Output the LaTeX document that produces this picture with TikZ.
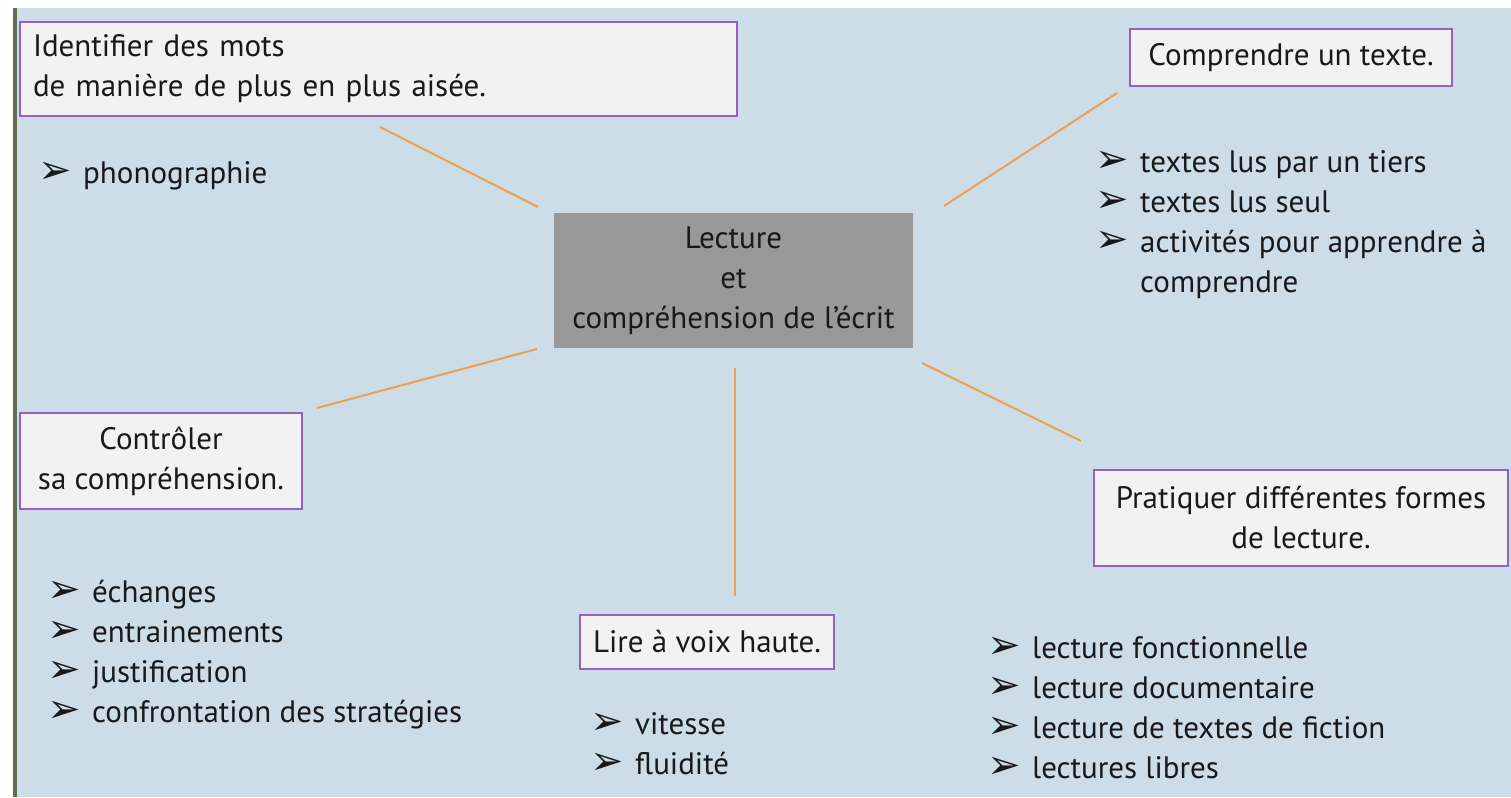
\documentclass[tikz,border=0pt]{standalone}
\usepackage{fontspec}
\setmainfont{PT Sans}
\newfontfamily\symbfont{DejaVu Sans}
\definecolor{mapblue}{RGB}{204, 221, 232}
\definecolor{mapedge}{RGB}{96, 110, 84}
\definecolor{boxgray}{RGB}{242, 242, 242}
\definecolor{boxviolet}{RGB}{150, 95, 195}
\definecolor{coregray}{RGB}{153, 153, 153}
\definecolor{linkorange}{RGB}{236, 160, 80}
\definecolor{inkdark}{RGB}{25, 25, 25}
\newcommand{\fs}{\fontsize{31}{40}\selectfont}
\newcommand{\puce}{\makebox[45pt][l]{\fontsize{40}{40}\symbfont\char"27A2}}
\tikzstyle{theme} = [rectangle, draw=boxviolet, line width=1.8pt, fill=boxgray,
    text=inkdark, font=\fs, inner sep=0pt, align=center]
\tikzstyle{core} = [rectangle, fill=coregray, text=inkdark, font=\fs,
    inner sep=0pt, align=center, minimum width=359pt, minimum height=135pt]
\tikzstyle{items} = [anchor=north west, inner sep=0pt, text=inkdark,
    font=\fs, align=left]
\tikzstyle{line} = [draw=linkorange, line width=2pt]

\begin{document}
\begin{tikzpicture}[x=1pt, y=-1pt]
  \useasboundingbox (0,0) rectangle (1511,797);
  \fill [mapblue] (15,8) rectangle (1511,797);
  \fill [mapedge] (12.5,8) rectangle (16.5,797);
  % centre
  \node [core] (lecture) at (733.5,280.5) {Lecture\\et\\compréhension de l’écrit};
  % themes
  \node [theme, minimum width=717pt, minimum height=94pt, text width=691pt, align=left]
    (identifier) at (378.5,69) {Identifier des mots\\de manière de plus en plus aisée.};
  \node [theme, minimum width=322pt, minimum height=57pt] (comprendre) at (1291,57.5) {Comprendre un texte.};
  \node [theme, minimum width=282pt, minimum height=96pt] (controler) at (161,461) {Contrôler\\sa compréhension.};
  \node [theme, minimum width=254pt, minimum height=54pt] (lire) at (707,642) {Lire à voix haute.};
  \node [theme, minimum width=414pt, minimum height=96pt] (pratiquer) at (1301,518) {Pratiquer différentes formes\\de lecture.};
  % lists
  \node [items] (l_identifier) at (38,155) {\strut\puce phonographie};
  \node [items] (l_comprendre) at (1095,144) {\strut\puce textes lus par un tiers\\
    \puce textes lus seul\\\puce activités pour apprendre à\\\hspace*{45pt}comprendre};
  \node [items] (l_controler) at (47,574) {\strut\puce échanges\\\puce entrainements\\
    \puce justification\\\puce confrontation des stratégies};
  \node [items] (l_lire) at (590,706) {\strut\puce vitesse\\\puce fluidité};
  \node [items] (l_pratiquer) at (987,630) {\strut\puce lecture fonctionnelle\\
    \puce lecture documentaire\\\puce lecture de textes de fiction\\\puce lectures libres};
  % link ends
  \coordinate (a1) at (380,127);  \coordinate (b1) at (538,207);
  \coordinate (a2) at (1117,93);  \coordinate (b2) at (944,206);
  \coordinate (a3) at (317,408);  \coordinate (b3) at (537,349);
  \coordinate (a4) at (735,596);  \coordinate (b4) at (735,368);
  \coordinate (a5) at (1081,441); \coordinate (b5) at (922,363);
  \path [line] (a1) -- (b1);
  \path [line] (a2) -- (b2);
  \path [line] (a3) -- (b3);
  \path [line] (a4) -- (b4);
  \path [line] (a5) -- (b5);
\end{tikzpicture}
\end{document}
